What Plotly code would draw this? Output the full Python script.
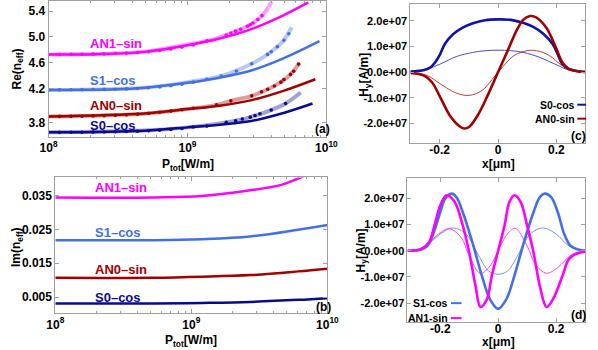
import plotly.graph_objects as go

W, H = 598, 350

# ---------------- panel (a): Re(n_eff) vs P_tot ----------------
p_low = [1.00e8, 1.20e8, 1.45e8, 1.74e8, 2.09e8, 2.51e8, 3.02e8, 3.63e8,
         4.37e8, 5.25e8, 6.31e8, 7.59e8, 9.12e8, 1.10e9]

an1_dot_p = p_low + [1.38e9, 1.90e9, 2.05e9, 2.22e9, 2.41e9, 2.70e9, 2.83e9, 2.96e9, 3.21e9, 3.43e9]
an1_dot_re = [4.728, 4.729, 4.730, 4.732, 4.735, 4.738, 4.743, 4.750, 4.760, 4.773, 4.790, 4.812,
              4.840, 4.875, 4.94, 5.03, 5.06, 5.09, 5.12, 5.165, 5.19, 5.215, 5.27, 5.33]
s1_dot_p = p_low + [1.38e9, 1.75e9, 2.25e9, 2.90e9, 3.77e9, 4.00e9, 4.43e9, 4.94e9, 5.36e9]
s1_dot_re = [4.180, 4.181, 4.182, 4.184, 4.186, 4.188, 4.191, 4.196, 4.203, 4.213, 4.227, 4.245,
             4.268, 4.300, 4.345, 4.395, 4.472, 4.585, 4.73, 4.77, 4.85, 4.95, 5.05]
an0_dot_p = p_low + [1.62e9, 2.05e9, 2.90e9, 3.41e9, 3.78e9, 4.22e9, 4.70e9, 4.94e9, 5.51e9, 5.81e9, 6.30e9]
an0_dot_re = [3.769, 3.770, 3.771, 3.773, 3.776, 3.780, 3.786, 3.794, 3.805, 3.818, 3.834, 3.852,
              3.872, 3.895, 3.949, 4.011, 4.088, 4.15, 4.19, 4.24, 4.30, 4.34, 4.42, 4.47, 4.58]
s0_dot_p = p_low + [1.38e9, 1.90e9, 2.22e9, 2.48e9, 2.83e9, 3.06e9, 3.32e9, 4.00e9, 5.08e9]
s0_dot_re = [3.523, 3.523, 3.524, 3.525, 3.527, 3.529, 3.532, 3.536, 3.541, 3.548, 3.557, 3.568,
             3.582, 3.605, 3.62, 3.677, 3.703, 3.729, 3.758, 3.785, 3.81, 3.868, 3.969]

an1_fit_p = [1e8, 2.19e8, 4.90e8, 1.0e9, 1.70e9, 2.95e9, 4.90e9, 7.41e9]
an1_fit_re = [4.728, 4.734, 4.769, 4.870, 4.975, 5.130, 5.335, 5.534]
s1_fit_p = [1e8, 3.02e8, 4.90e8, 1.0e9, 1.70e9, 2.95e9, 4.90e9, 8.91e9]
s1_fit_re = [4.180, 4.190, 4.215, 4.290, 4.370, 4.488, 4.668, 4.934]
an0_fit_p = [1e8, 4.90e8, 1.0e9, 1.70e9, 2.95e9, 4.90e9, 8.32e9]
an0_fit_re = [3.769, 3.815, 3.883, 3.934, 4.026, 4.165, 4.345]
s0_fit_p = [1e8, 4.90e8, 1.0e9, 1.70e9, 2.95e9, 4.90e9, 7.94e9]
s0_fit_re = [3.523, 3.549, 3.600, 3.642, 3.703, 3.822, 3.969]

an1_faint_p = [1e8, 4.90e8, 1.0e9, 1.38e9, 1.90e9, 2.41e9, 2.96e9, 3.43e9, 3.75e9, 4.02e9]
an1_faint_re = [4.728, 4.770, 4.885, 4.940, 5.030, 5.120, 5.215, 5.330, 5.430, 5.550]
s1_faint_p = [1e8, 4.90e8, 1.0e9, 1.75e9, 2.90e9, 3.77e9, 4.43e9, 4.94e9, 5.62e9]
s1_faint_re = [4.180, 4.215, 4.300, 4.395, 4.585, 4.730, 4.850, 4.950, 5.150]
an0_faint_p = [1e8, 4.90e8, 1.0e9, 1.62e9, 2.05e9, 2.90e9, 3.78e9, 4.70e9, 5.51e9, 6.40e9]
an0_faint_re = [3.769, 3.812, 3.885, 3.949, 4.011, 4.088, 4.190, 4.300, 4.420, 4.600]
s0_faint_p = [1e8, 4.90e8, 1.0e9, 1.90e9, 2.83e9, 4.00e9, 5.08e9, 6.53e9]
s0_faint_re = [3.523, 3.550, 3.600, 3.677, 3.758, 3.868, 3.969, 4.140]

re_tick_vals = [3.675, 4.2, 4.6, 5.0, 5.4]
re_tick_text = ["3.8", "4.2", "4.6", "5.0", "5.4"]
p_tick_vals = [1e8, 1e9, 1e10]
p_tick_text = ["10<sup>8</sup>", "10<sup>9</sup>", "10<sup>10</sup>"]

# ---------------- panel (b): Im(n_eff) vs P_tot ----------------
an1_im_p = [1e8, 5.3e8, 1.2e9, 2.71e9, 4.65e9, 6.1e9, 7.5e9]
an1_im = [0.0344, 0.0344, 0.0348, 0.0365, 0.0382, 0.0400, 0.0415]
im_p = [1e8, 5.3e8, 1.2e9, 2.71e9, 6.1e9, 1.0e10]
s1_im = [0.0218, 0.0218, 0.0221, 0.0229, 0.0249, 0.0263]
an0_im = [0.0107, 0.0107, 0.0110, 0.0115, 0.0126, 0.0134]
s0_im = [0.0031, 0.0031, 0.0033, 0.0036, 0.0042, 0.0047]
im_tick_vals = [0.005, 0.015, 0.025, 0.035]
im_tick_text = ["0.005", "0.015", "0.025", "0.035"]

# ---------------- panel (c): H_y profiles, S0 / AN0 ----------------
c_s0_x = [-0.300, -0.253, -0.231, -0.215, -0.198, -0.182, -0.154, -0.121, -0.088, -0.044, 0.0,
          0.044, 0.088, 0.121, 0.154, 0.187, 0.204, 0.220, 0.242, 0.275, 0.300]
c_s0_h = [0.026, 0.09, 0.19, 0.39, 0.71, 1.10, 1.48, 1.74, 1.90, 2.03, 2.06,
          2.04, 1.92, 1.77, 1.51, 1.10, 0.71, 0.32, 0.13, 0.04, 0.01]
c_s0_thin_x = [-0.300, -0.253, -0.198, -0.143, -0.088, -0.044, 0.0, 0.044, 0.088, 0.143, 0.198, 0.242, 0.297]
c_s0_thin_h = [0.01, 0.09, 0.32, 0.61, 0.77, 0.84, 0.86, 0.84, 0.77, 0.58, 0.30, 0.09, 0.01]
c_an0_x = [-0.300, -0.253, -0.226, -0.198, -0.165, -0.132, -0.116, -0.099, -0.066, -0.033, 0.0,
           0.033, 0.066, 0.088, 0.110, 0.132, 0.165, 0.198, 0.220, 0.242, 0.297]
c_an0_h = [-0.03, -0.13, -0.39, -0.97, -1.68, -2.10, -2.19, -2.13, -1.61, -0.84, 0.0,
           0.84, 1.68, 2.06, 2.19, 2.13, 1.74, 0.97, 0.39, 0.13, 0.01]
c_an0_thin_x = [-0.300, -0.242, -0.198, -0.143, -0.099, -0.055, 0.0, 0.055, 0.099, 0.132, 0.176, 0.220, 0.264, 0.300]
c_an0_thin_h = [-0.01, -0.13, -0.45, -0.81, -0.90, -0.71, 0.0, 0.65, 0.84, 0.84, 0.65, 0.26, 0.06, 0.01]

# ---------------- panel (d): H_y profiles, S1 / AN1 ----------------
d_s1_x = [-0.313, -0.267, -0.244, -0.222, -0.200, -0.183, -0.161, -0.144, -0.122, -0.089, -0.056, -0.028, 0.0,
          0.028, 0.056, 0.089, 0.122, 0.144, 0.161, 0.183, 0.206, 0.228, 0.250, 0.278, 0.300]
d_s1_h = [0.0, 0.04, 0.19, 0.71, 1.47, 1.99, 2.18, 2.05, 1.47, 0.32, -0.96, -1.86, -2.22,
          -1.86, -0.96, 0.32, 1.47, 2.05, 2.18, 2.05, 1.47, 0.64, 0.19, 0.04, 0.01]
d_s1_thin_x = [-0.313, -0.256, -0.200, -0.156, -0.111, -0.067, -0.033, 0.0, 0.033, 0.067, 0.111, 0.156, 0.200, 0.244, 0.289, 0.300]
d_s1_thin_h = [0.0, 0.13, 0.64, 0.87, 0.64, -0.19, -0.77, -0.90, -0.77, -0.19, 0.64, 0.87, 0.64, 0.19, 0.04, 0.02]
d_an1_x = [-0.313, -0.267, -0.239, -0.217, -0.200, -0.178, -0.150, -0.122, -0.100, -0.078, -0.061, -0.039, -0.022, 0.0,
           0.022, 0.039, 0.056, 0.078, 0.100, 0.122, 0.144, 0.167, 0.189, 0.222, 0.244, 0.267, 0.300]
d_an1_h = [0.0, 0.06, 0.32, 1.09, 1.73, 2.12, 1.86, 0.96, -0.06, -1.35, -2.15, -1.86, -0.96, 0.0,
           0.96, 1.86, 2.12, 1.86, 0.96, -0.06, -1.35, -2.15, -1.86, -0.96, -0.32, -0.13, -0.04]
d_an1_thin_x = [-0.313, -0.256, -0.206, -0.169, -0.128, -0.100, -0.061, -0.028, 0.0, 0.028, 0.058, 0.100, 0.128, 0.167, 0.206, 0.256, 0.300]
d_an1_thin_h = [0.0, 0.13, 0.64, 0.84, 0.51, -0.19, -0.87, -0.58, 0.0, 0.58, 0.86, 0.19, -0.51, -0.86, -0.64, -0.13, -0.02]

h_scale = 1e7
h_tick_vals = [-2e7, -1e7, 0, 1e7, 2e7]
h_tick_text = ["-2.0e+07", "-1.0e+07", "0.0e+00", "1.0e+07", "2.0e+07"]
x_tick_vals = [-0.2, 0, 0.2]
x_tick_text = ["-0.2", "0", "0.2"]

mode_names = ["AN1–sin", "S1–cos", "AN0–sin", "S0–cos"]
C_AN1, C_S1, C_AN0, C_S0 = "#FF00FF", "#4470E2", "#A00000", "#0A0A8E"
C_S0c = "#1212A8"

FONT = "Liberation Sans"

fig = go.Figure()


def add_line(x, y, color, width, xa, ya, opacity=1.0):
    fig.add_trace(go.Scatter(x=x, y=y, mode="lines", xaxis=xa, yaxis=ya, opacity=opacity,
                             line=dict(color=color, width=width, shape="spline"),
                             hoverinfo="skip", showlegend=False))


def add_dots(x, y, color, xa, ya):
    fig.add_trace(go.Scatter(x=x, y=y, mode="markers", xaxis=xa, yaxis=ya,
                             marker=dict(color=color, size=3.6), hoverinfo="skip", showlegend=False))


# (a)
for fx, fy, col in [(an1_faint_p, an1_faint_re, C_AN1), (s1_faint_p, s1_faint_re, C_S1),
                    (an0_faint_p, an0_faint_re, C_AN0), (s0_faint_p, s0_faint_re, C_S0)]:
    add_line(fx, fy, col, 4, "x", "y", opacity=0.38)
for fx, fy, col in [(an1_fit_p, an1_fit_re, C_AN1), (s1_fit_p, s1_fit_re, C_S1),
                    (an0_fit_p, an0_fit_re, C_AN0), (s0_fit_p, s0_fit_re, C_S0)]:
    add_line(fx, fy, col, 2.5, "x", "y")
for fx, fy, col in [(an1_dot_p, an1_dot_re, C_AN1), (s1_dot_p, s1_dot_re, C_S1),
                    (an0_dot_p, an0_dot_re, C_AN0), (s0_dot_p, s0_dot_re, C_S0)]:
    add_dots(fx, fy, col, "x", "y")

# (b)
add_line(an1_im_p, an1_im, C_AN1, 2.5, "x2", "y2")
add_line(im_p, s1_im, C_S1, 2.5, "x2", "y2")
add_line(im_p, an0_im, C_AN0, 2.5, "x2", "y2")
add_line(im_p, s0_im, C_S0, 2.5, "x2", "y2")

# (c)
add_line(c_s0_thin_x, [v * h_scale for v in c_s0_thin_h], C_S0c, 1, "x3", "y3", opacity=0.75)
add_line(c_an0_thin_x, [v * h_scale for v in c_an0_thin_h], C_AN0, 1, "x3", "y3", opacity=0.75)
add_line(c_s0_x, [v * h_scale for v in c_s0_h], C_S0c, 2.6, "x3", "y3")
add_line(c_an0_x, [v * h_scale for v in c_an0_h], C_AN0, 2.6, "x3", "y3")

# (d)
add_line(d_s1_thin_x, [v * h_scale for v in d_s1_thin_h], C_S1, 1, "x4", "y4", opacity=0.75)
add_line(d_an1_thin_x, [v * h_scale for v in d_an1_thin_h], C_AN1, 1, "x4", "y4", opacity=0.75)
add_line(d_s1_x, [v * h_scale for v in d_s1_h], C_S1, 2.6, "x4", "y4")
add_line(d_an1_x, [v * h_scale for v in d_an1_h], C_AN1, 2.6, "x4", "y4")


def px_x(px):
    return px / W


def px_y(py):
    return 1 - py / H


tickfont = dict(family=FONT, size=12, color="black", weight="bold")
frame = dict(showline=True, linecolor="#a0a0a0", linewidth=1, mirror="ticks", ticks="inside",
             ticklen=4, tickcolor="#a0a0a0", showgrid=False, zeroline=False, tickfont=tickfont)

minor_log = dict(ticks="inside", ticklen=2, tickcolor="#a0a0a0",
                 tickvals=[2e8, 3e8, 4e8, 5e8, 6e8, 7e8, 8e8, 9e8, 2e9, 3e9, 4e9, 5e9, 6e9, 7e9, 8e9, 9e9])

fig.update_layout(
    width=W, height=H, margin=dict(l=0, r=0, t=0, b=0),
    paper_bgcolor="white", plot_bgcolor="white", showlegend=False,
    xaxis=dict(frame, domain=[px_x(41), px_x(329)], type="log", range=[8, 10],
               tickvals=p_tick_vals, ticktext=p_tick_text, minor=minor_log, anchor="y"),
    yaxis=dict(frame, domain=[px_y(136), px_y(0.5)], range=[3.457, 5.549], anchor="x",
               tickvals=re_tick_vals, ticktext=re_tick_text),
    xaxis2=dict(frame, domain=[px_x(48), px_x(330)], type="log", range=[8, 10],
                tickvals=p_tick_vals, ticktext=p_tick_text, minor=minor_log, anchor="y2"),
    yaxis2=dict(frame, domain=[px_y(313), px_y(177)], range=[0.00029, 0.04029], anchor="x2",
                tickvals=im_tick_vals, ticktext=im_tick_text),
    xaxis3=dict(frame, domain=[px_x(416), px_x(597)], range=[-0.3, 0.298], anchor="y3",
                tickvals=x_tick_vals, ticktext=x_tick_text, ticklabelstandoff=-4),
    yaxis3=dict(frame, domain=[px_y(142), px_y(3)], range=[-2.74e7, 2.66e7], anchor="x3",
                tickvals=h_tick_vals, ticktext=h_tick_text, tickfont=dict(tickfont, size=11)),
    xaxis4=dict(frame, domain=[px_x(413), px_x(597)], range=[-0.313, 0.30], anchor="y4",
                tickvals=x_tick_vals, ticktext=x_tick_text, ticklabelstandoff=-4),
    yaxis4=dict(frame, domain=[px_y(322), px_y(178)], range=[-2.725e7, 2.76e7], anchor="x4",
                tickvals=h_tick_vals, ticktext=h_tick_text, tickfont=dict(tickfont, size=11)),
)

ann = []


def label(text, px, py, color="black", size=13, xanchor="left", angle=0):
    ann.append(dict(text=text, x=px_x(px), y=px_y(py), xref="paper", yref="paper",
                    xanchor=xanchor, yanchor="middle", showarrow=False, textangle=angle,
                    borderpad=0, borderwidth=0,
                    font=dict(family=FONT, size=size, color=color, weight="bold")))


# axis titles
label("P<sub>tot</sub>[W/m]", 185, 164, size=12, xanchor="center")
label("P<sub>tot</sub>[W/m]", 189, 341, size=12, xanchor="center")
label("Re(n<sub>eff</sub>)", 9, 68, size=12, xanchor="center", angle=-90)
label("Im(n<sub>eff</sub>)", 9, 247, size=12, xanchor="center", angle=-90)
label("x[μm]", 507, 163, size=12, xanchor="center")
label("x[μm]", 507, 342, size=12, xanchor="center")
label("H<sub>y</sub>[A/m]", 369, 74, size=12, xanchor="center", angle=-90)
label("H<sub>y</sub>[A/m]", 366, 250, size=12, xanchor="center", angle=-90)

# curve labels (a)
for name, col, py in zip(mode_names, [C_AN1, C_S1, C_AN0, C_S0], [42.5, 80, 104.5, 125]):
    label(name, 84, py, col, 13)
# curve labels (b)
for name, col, py in zip(mode_names, [C_AN1, C_S1, C_AN0, C_S0], [187, 232, 269, 297]):
    label(name, 89, py, col, 13)
# panel letters
label("(a)", 325, 128, size=12, xanchor="center")
label("(b)", 326, 307, size=12, xanchor="center")
label("(c)", 590, 135, size=12, xanchor="center")
label("(d)", 590, 315, size=12, xanchor="center")
# legends (c), (d)
label("S0-cos", 587, 104, size=10.5, xanchor="right")
label("AN0-sin", 587, 118, size=10.5, xanchor="right")
label("S1-cos", 455, 303, size=10.5, xanchor="right")
label("AN1-sin", 455, 318, size=10.5, xanchor="right")

shapes = []
for x0, x1, py, col in [(589, 598, 104, C_S0c), (589, 598, 118, C_AN0),
                        (458, 469, 303, C_S1), (458, 469, 318, C_AN1)]:
    shapes.append(dict(type="line", xref="paper", yref="paper", x0=px_x(x0), x1=px_x(x1),
                       y0=px_y(py), y1=px_y(py), line=dict(color=col, width=2)))

fig.update_layout(annotations=ann, shapes=shapes)
fig.write_html("out.html", config={"displayModeBar": False},
               post_script="document.body.style.margin='0';document.body.style.overflow='hidden';")
